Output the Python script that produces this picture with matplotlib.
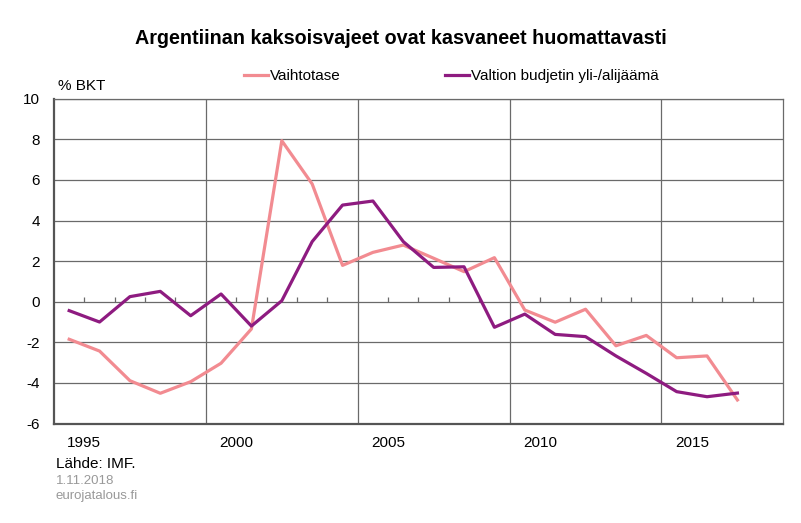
import matplotlib.pyplot as plt
import numpy as np

plt.rcParams['font.family'] = ['Liberation Sans', 'DejaVu Sans']
plt.rcParams['axes.unicode_minus'] = False

# Data
years = np.arange(1995, 2018)
vaihtotase = [-1.85, -2.43, -3.89, -4.51, -3.94, -3.03, -1.34, 7.93, 5.80, 1.79,
              2.43, 2.79, 2.14, 1.48, 2.17, -0.41, -1.01, -0.37, -2.17, -1.66,
              -2.76, -2.67, -4.84]
budjetti = [-0.44, -1.00, 0.25, 0.51, -0.69, 0.38, -1.20, 0.05, 2.96, 4.76,
            4.96, 2.96, 1.69, 1.72, -1.26, -0.61, -1.61, -1.72, -2.67, -3.53,
            -4.43, -4.68, -4.50]
tick_years = [1995, 2000, 2005, 2010, 2015]

pink = "#F28B91"
purple = "#8E1B80"
grid_c = "#6a6a6a"

fig = plt.figure(figsize=(8.01, 5.23), dpi=100)
ax = fig.add_axes([0.0674, 0.1902, 0.9101, 0.6211])

# Category axis: one slot per year, last slot empty
ax.set_xlim(years[0] - 0.5, years[-1] + 1.5)
ax.set_ylim(-6, 10)
ax.set_yticks(range(-6, 11, 2))

# Gridlines
for yv in range(-4, 11, 2):
    ax.axhline(yv, color=grid_c, lw=0.9, zorder=1)
for xv in [1999.5, 2004.5, 2009.5, 2014.5]:
    ax.axvline(xv, color=grid_c, lw=0.9, zorder=1)

# Small category ticks on the zero line
bounds = np.arange(years[0] + 0.5, years[-1] + 1.5, 1.0)
bounds = [b for b in bounds if (b - 1999.5) % 5 != 0]
ax.vlines(bounds, 0, 0.25, color=grid_c, lw=0.9, zorder=1)

ax.plot(years, vaihtotase, color=pink, lw=2.3, label="Vaihtotase", zorder=3)
ax.plot(years, budjetti, color=purple, lw=2.3,
        label="Valtion budjetin yli-/alijäämä", zorder=4)

ax.set_xticks([y + 0.5 for y in tick_years])
ax.set_xticklabels([str(y) for y in tick_years], fontsize=11)
ax.tick_params(axis='x', length=0, pad=9)
ax.tick_params(axis='y', length=0, pad=10, labelsize=11)

for s in ["left", "bottom"]:
    ax.spines[s].set_color("#555555")
    ax.spines[s].set_linewidth(1.6)
for s in ["top", "right"]:
    ax.spines[s].set_color(grid_c)
    ax.spines[s].set_linewidth(0.9)

fig.text(0.5, 0.927, "Argentiinan kaksoisvajeet ovat kasvaneet huomattavasti",
         ha="center", va="center", fontsize=14.2, fontweight="bold")
fig.text(58 / 801, 1 - 86 / 523, "% BKT", ha="left", va="center", fontsize=11)

fig.legend(loc="center left", bbox_to_anchor=(244 / 801, 1 - 76 / 523), ncol=2,
           frameon=False, fontsize=11, handlelength=1.6, handletextpad=0.1,
           columnspacing=6.8, borderpad=0, borderaxespad=0)

fig.text(56 / 801, 1 - 464 / 523, "Lähde: IMF.", ha="left", va="center", fontsize=11)
fig.text(56 / 801, 1 - 481 / 523, "1.11.2018", ha="left", va="center",
         fontsize=9.5, color="#999999")
fig.text(56 / 801, 1 - 496 / 523, "eurojatalous.fi", ha="left", va="center",
         fontsize=9.5, color="#999999")

fig.savefig("out.png", dpi=100)
